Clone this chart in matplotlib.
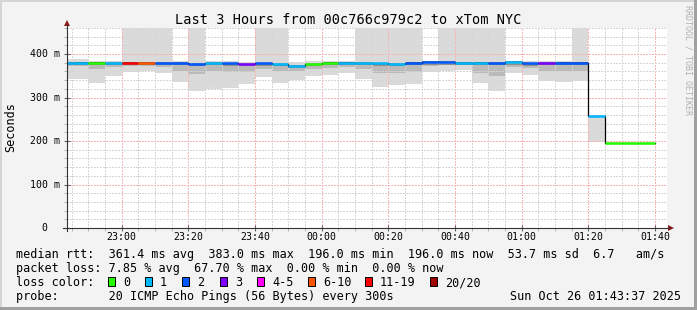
import matplotlib
matplotlib.use("Agg")
import numpy as np
import matplotlib.pyplot as plt
from matplotlib.patches import Rectangle, Polygon
from matplotlib.lines import Line2D
from matplotlib.ticker import MultipleLocator
from matplotlib.transforms import blended_transform_factory

W, H = 697, 310
MONO = "DejaVu Sans Mono"

# 5 minute steps (start time), values in ms
step_start = ["22:40", "22:45", "22:50", "22:55", "23:00", "23:05", "23:10", "23:15", "23:20",
              "23:25", "23:30", "23:35", "23:40", "23:45", "23:50", "23:55", "00:00", "00:05",
              "00:10", "00:15", "00:20", "00:25", "00:30", "00:35", "00:40", "00:45", "00:50",
              "00:55", "01:00", "01:05", "01:10", "01:15", "01:20", "01:25", "01:30", "01:35"]
median_ms = [380.5, 380.5, 380, 379.5, 380, 380, 379.5, 379.5, 378,
             379.5, 378.5, 377, 378.5, 377, 372, 378, 380.5, 380,
             379, 378.5, 377.5, 380, 381, 381, 380.5, 380, 379,
             381, 378.5, 379, 380, 380, 257, 196, 196, 196]
# index into loss_colors
loss_idx = [1, 1, 0, 1, 6, 5, 2, 2, 2,
            1, 2, 3, 2, 1, 1, 0, 0, 1,
            1, 1, 1, 2, 2, 2, 1, 1, 2,
            1, 2, 3, 2, 2, 1, 0, 0, 0]
smoke_lo = [342, 342, 333, 349, 359, 361, 357, 336, 315,
            320, 322, 332, 347, 333, 341, 349, 352, 357,
            343, 324, 329, 332, 359, 360, 364, 334, 315,
            357, 352, 339, 336, 339, 198, 196, 196, 196]
smoke_mid = [372, 372, 365, 370, 372, 373, 371, 362, 355,
             360, 358, 358, 365, 362, 360, 366, 368, 371,
             366, 356, 357, 358, 372, 374, 374, 357, 350,
             371, 368, 360, 362, 360, 257, 196, 196, 196]
# 460 = smoke runs off the top of the graph
smoke_hi = [389, 389, 384, 383, 460, 460, 460, 383, 460,
            383, 384, 382, 460, 460, 381, 383, 384, 385,
            460, 460, 460, 460, 383, 460, 460, 460, 460,
            385, 384, 383, 384, 460, 258, 196, 196, 196]

loss_labels = ["0", "1", "2", "3", "4-5", "6-10", "11-19", "20/20"]
loss_colors = ["#26ff00", "#00b8ff", "#0059ff", "#7e00ff", "#ff00ff", "#ff5500", "#ff0000", "#a10000"]

x_tick_labels = ["23:00", "23:20", "23:40", "00:00", "00:20", "00:40", "01:00", "01:20", "01:40"]
y_tick_values = [0, 100, 200, 300, 400]
y_tick_labels = ["0", "100 m", "200 m", "300 m", "400 m"]


def to_min(s):
    h, m = map(int, s.split(":"))
    if h >= 12:
        h -= 24
    return h * 60 + m


def fx(px):
    return px / W


def fy(py):
    return 1 - py / H


x = np.array([to_min(s) for s in step_start], dtype=float)
med = np.array(median_ms)
lo = np.array(smoke_lo)
mid = np.array(smoke_mid)
hi = np.array(smoke_hi)

fig = plt.figure(figsize=(W / 100, H / 100), dpi=100, facecolor="#f3f3f3")

# frame around the picture
fig.add_artist(Rectangle((0, fy(2)), 1, 2 / H, transform=fig.transFigure, color="#d4d4d4", lw=0))
fig.add_artist(Rectangle((0, 0), 2 / W, 1, transform=fig.transFigure, color="#d4d4d4", lw=0))
fig.add_artist(Rectangle((0, 0), 1, 3 / H, transform=fig.transFigure, color="#a0a0a0", lw=0))
fig.add_artist(Rectangle((fx(694), 0), 3 / W, 1, transform=fig.transFigure, color="#a0a0a0", lw=0))

ax = fig.add_axes([fx(67), fy(228), 600 / W, 200 / H])
ax.set_facecolor("white")
for sp in ax.spines.values():
    sp.set_visible(False)

# smoke
ax.bar(x, hi - lo, bottom=lo, width=5, align="edge", color="#dadada", lw=0, zorder=1)
m = mid < med
ax.bar(x[m], med[m] + 2 - mid[m], bottom=mid[m], width=5, align="edge", color="#bababa", lw=0, zorder=1.1)
ax.bar(x[m], np.full(m.sum(), 7.0), bottom=med[m] - 5, width=5, align="edge", color="#8e8e8e", lw=0, zorder=1.2)
ax.bar(x[m], np.full(m.sum(), 3.0), bottom=med[m] - 2, width=5, align="edge", color="#5a5a5a", lw=0, zorder=1.3)

# median line
ax.step(np.append(x, x[-1] + 5), np.append(med, med[-1]), where="post", color="#000000", lw=0.9, zorder=3)
ax.hlines(med, x, x + 5, colors=[loss_colors[i] for i in loss_idx], lw=1.8, zorder=4)

ax.set_xlim(to_min("22:43") + 37 / 60, to_min("01:43") + 37 / 60)
ax.set_ylim(0, 460)

ax.set_xticks([to_min(s) for s in x_tick_labels])
ax.set_xticklabels(x_tick_labels, fontsize=7.1, family=MONO)
ax.xaxis.set_minor_locator(MultipleLocator(5))
ax.set_yticks(y_tick_values)
ax.set_yticklabels([])
ax.yaxis.set_minor_locator(MultipleLocator(20))
ax.tick_params(axis="x", which="major", length=4, direction="inout", color="#666666", pad=1)
ax.tick_params(axis="x", which="minor", length=2, direction="out", color="#aaaaaa")
ax.tick_params(axis="y", which="major", length=4, direction="inout", color="#666666")
ax.tick_params(axis="y", which="minor", length=2, direction="out", color="#aaaaaa")

ax.set_axisbelow(False)
ax.grid(which="minor", color="#d6d6d6", linestyle=(0, (1, 1)), lw=1.0, antialiased=False)
ax.grid(which="major", color="#f6b4b4", linestyle=(0, (1, 1)), lw=1.0, antialiased=False)

tr = blended_transform_factory(ax.transAxes, ax.transData)
for v, s in zip(y_tick_values, y_tick_labels):
    xr = (60 - 67) / 600 if " " in s else (47 - 67) / 600
    ax.text(xr, v, s, transform=tr, ha="right", va="center", fontsize=7.1, family=MONO)

# axes with arrows
fig.add_artist(Line2D([fx(67), fx(67)], [fy(231), fy(25)], transform=fig.transFigure, color="#333333", lw=0.8))
fig.add_artist(Line2D([fx(63), fx(669)], [fy(228), fy(228)], transform=fig.transFigure, color="#333333", lw=0.8))
fig.add_artist(Polygon([[fx(64), fy(26)], [fx(70), fy(26)], [fx(67), fy(20)]], closed=True,
                       transform=fig.transFigure, color="#8b1a1a", lw=0))
fig.add_artist(Polygon([[fx(668), fy(225)], [fx(668), fy(231)], [fx(674), fy(228)]], closed=True,
                       transform=fig.transFigure, color="#8b1a1a", lw=0))

# titles
fig.text(fx(348.5), fy(24), "Last 3 Hours from 00c766c979c2 to xTom NYC", ha="center", va="baseline",
         fontsize=9.8, family=MONO)
fig.text(fx(11), fy(127), "Seconds", rotation=90, ha="center", va="center", fontsize=8.45, family=MONO)
fig.text(fx(688), fy(5), "RRDTOOL / TOBI OETIKER", rotation=270, ha="center", va="top", fontsize=6,
         family=MONO, color="#b0b0b0")

# legend
fs = 8.45
fig.text(fx(16), fy(258), "median rtt:  361.4 ms avg  383.0 ms max  196.0 ms min  196.0 ms now  53.7 ms sd  6.7   am/s",
         ha="left", va="baseline", fontsize=fs, family=MONO)
fig.text(fx(16), fy(272), "packet loss: 7.85 % avg  67.70 % max  0.00 % min  0.00 % now",
         ha="left", va="baseline", fontsize=fs, family=MONO)
fig.text(fx(16), fy(286), "loss color:", ha="left", va="baseline", fontsize=fs, family=MONO)
sq_x = [108, 145, 182, 220, 257, 308, 365, 430]
for px, lab, c in zip(sq_x, loss_labels, loss_colors):
    fig.add_artist(Rectangle((fx(px), fy(286)), 7 / W, 9 / H, transform=fig.transFigure,
                             facecolor=c, edgecolor="black", lw=0.7))
    fig.text(fx(px + 15), fy(286), lab, ha="left", va="baseline", fontsize=fs, family=MONO)
fig.text(fx(16), fy(300), "probe:       20 ICMP Echo Pings (56 Bytes) every 300s",
         ha="left", va="baseline", fontsize=fs, family=MONO)
fig.text(fx(681), fy(300), "Sun Oct 26 01:43:37 2025", ha="right", va="baseline", fontsize=fs, family=MONO)

fig.savefig("out.png", dpi=100, facecolor=fig.get_facecolor())
